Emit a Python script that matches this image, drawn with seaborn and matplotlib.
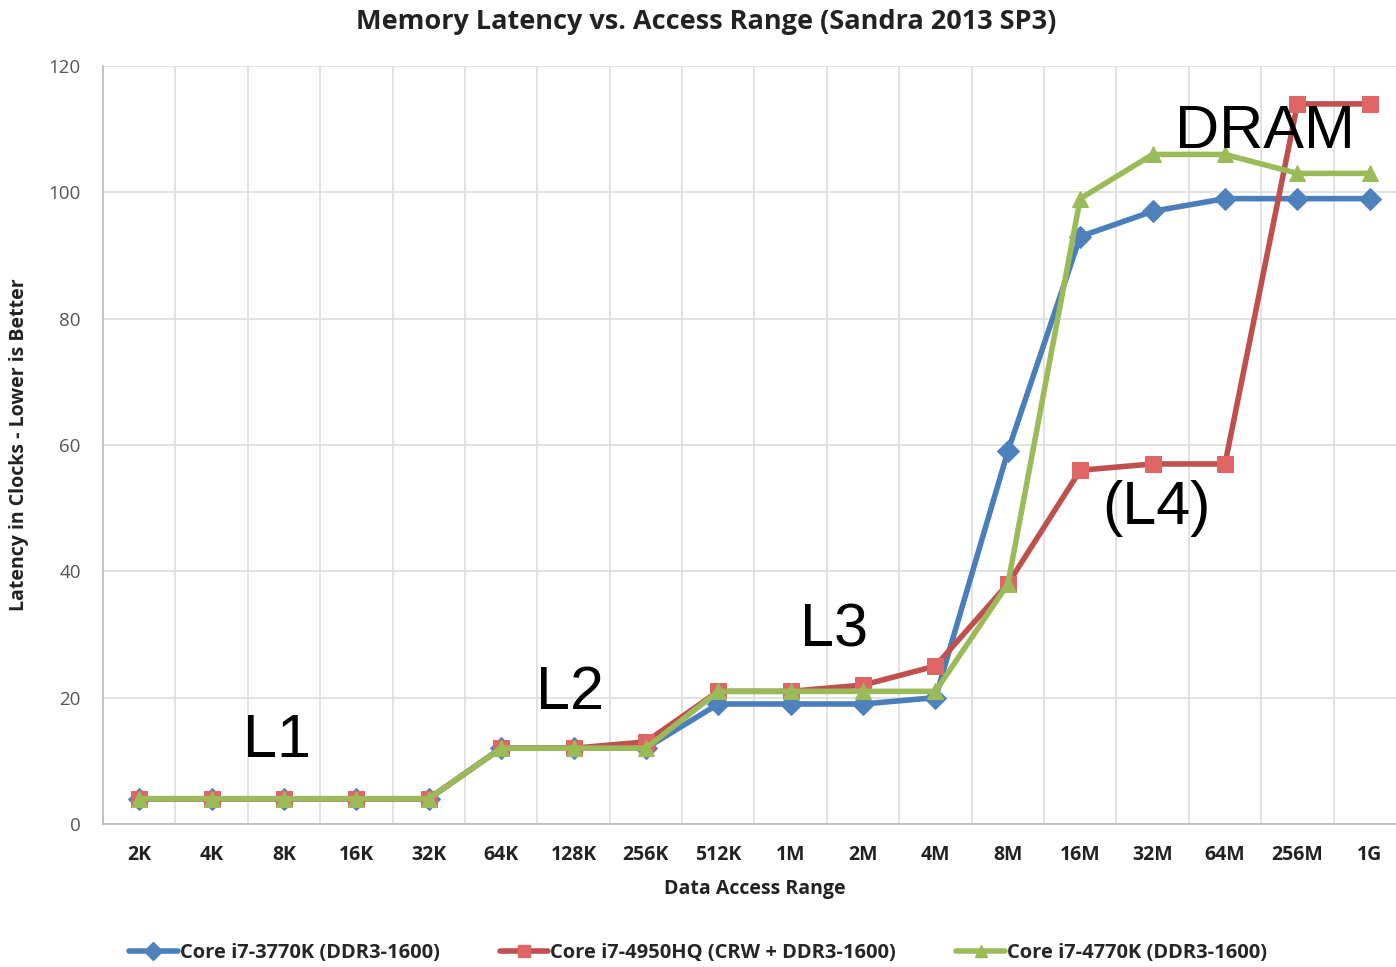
import matplotlib
matplotlib.use('Agg')
import matplotlib.pyplot as plt
import matplotlib.lines as mlines
from matplotlib.ticker import FixedLocator
import seaborn as sns
import pandas as pd

# Data
ranges = ["2K", "4K", "8K", "16K", "32K", "64K", "128K", "256K", "512K",
          "1M", "2M", "4M", "8M", "16M", "32M", "64M", "256M", "1G"]
i7_3770k = [4, 4, 4, 4, 4, 12, 12, 12, 19, 19, 19, 20, 59, 93, 97, 99, 99, 99]
i7_4950hq = [4, 4, 4, 4, 4, 12, 12, 13, 21, 21, 22, 25, 38, 56, 57, 57, 114, 114]
i7_4770k = [4, 4, 4, 4, 4, 12, 12, 12, 21, 21, 21, 21, 38, 99, 106, 106, 103, 103]
series_names = ["Core i7-3770K (DDR3-1600)",
                "Core i7-4950HQ (CRW + DDR3-1600)",
                "Core i7-4770K (DDR3-1600)"]
cache_labels = ["L1", "L2", "L3", "(L4)", "DRAM"]
cache_pos = [(1.9, 13), (5.95, 20.7), (9.6, 30.5), (14.05, 50), (15.55, 109.5)]

line_colors = ["#4A7EBB", "#C0504D", "#9BBB59"]
marker_colors = ["#4F81BD", "#E06666", "#9BBB59"]
markers = ["D", "s", "^"]

df = pd.DataFrame({
    "range": ranges * 3,
    "latency": i7_3770k + i7_4950hq + i7_4770k,
    "cpu": [series_names[0]] * len(ranges) + [series_names[1]] * len(ranges)
           + [series_names[2]] * len(ranges),
})

sns.set_style("white")
plt.rcParams['font.family'] = ['Open Sans', 'DejaVu Sans']

fig = plt.figure(figsize=(13.96, 9.67), dpi=100)
ax = fig.add_axes([103 / 1396, 1 - 824 / 967, 1303 / 1396, (824 - 66) / 967])

sns.lineplot(data=df, x="range", y="latency", hue="cpu", style="cpu",
             palette=dict(zip(series_names, line_colors)),
             markers=dict(zip(series_names, markers)),
             dashes=False, sort=False, lw=4, markersize=11,
             legend=False, ax=ax)

# recolor marker faces
for line, mc in zip(ax.get_lines(), marker_colors):
    line.set_markerfacecolor(mc)
    line.set_markeredgecolor(mc)

ax.set_xlim(-0.5, len(ranges) - 0.5)
ax.set_ylim(0, 120)
ax.set_yticks(range(0, 121, 20))
ax.xaxis.set_minor_locator(FixedLocator([i - 0.5 for i in range(len(ranges) + 1)]))
ax.grid(True, which="minor", axis="x", color="#dddddd", lw=1.2)
ax.grid(True, which="major", axis="y", color="#dddddd", lw=1.2)
ax.set_axisbelow(True)

ax.tick_params(axis="x", which="major", length=0, pad=15, labelsize=14, labelcolor="#222222")
ax.tick_params(axis="x", which="minor", length=8, color="#bbbbbb", width=1.2)
ax.tick_params(axis="y", length=8, color="#bbbbbb", width=1.2, pad=8,
               labelsize=13.5, labelcolor="#555555")
for lbl in ax.get_xticklabels():
    lbl.set_fontweight("bold")

for side in ["top", "right"]:
    ax.spines[side].set_visible(False)
ax.spines["left"].set_color("#bbbbbb")
ax.spines["bottom"].set_color("#bbbbbb")
ax.spines["left"].set_linewidth(1.2)
ax.spines["bottom"].set_linewidth(1.2)

ax.set_xlabel("Data Access Range", fontsize=14, fontweight="bold", color="#222222", labelpad=10)
ax.set_ylabel("Latency in Clocks - Lower is Better", fontsize=14, fontweight="bold",
              color="#222222", labelpad=14)

fig.text(706 / 1396, 1 - 22 / 967, "Memory Latency vs. Access Range (Sandra 2013 SP3)",
         ha="center", va="center", fontsize=19.5, fontweight="bold", color="#222222")

for txt, (xp, yp) in zip(cache_labels, cache_pos):
    ax.text(xp, yp, txt, ha="center", va="center", fontsize=44,
            family=["Liberation Sans", "DejaVu Sans"], color="black")

handles = [mlines.Line2D([], [], color=lc, lw=4, marker=m, markersize=9,
                         markerfacecolor=mc, markeredgecolor=mc, label=n)
           for lc, mc, m, n in zip(line_colors, marker_colors, markers, series_names)]
fig.legend(handles=handles, loc="center", bbox_to_anchor=(0.5, 1 - 953 / 967),
           ncol=3, frameon=False, handlelength=2.4, handletextpad=0.1,
           columnspacing=3.0, prop={"weight": "bold", "size": 14.5})

fig.savefig("out.png", dpi=100)
plt.close(fig)
